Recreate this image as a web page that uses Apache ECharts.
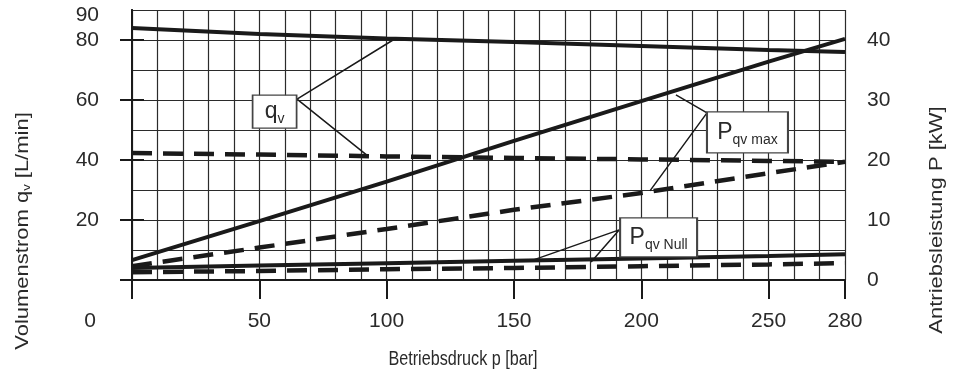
<!DOCTYPE html>
<html>
<head>
<meta charset="utf-8">
<script src="https://cdn.jsdelivr.net/npm/echarts@6/dist/echarts.min.js"></script>
<style>
  html, body { margin: 0; padding: 0; background: #fff; }
  #chart { width: 958px; height: 376px; }
</style>
</head>
<body>
<div id="chart"></div>
<script>
// ---- data ----
const pressure = [0, 50, 100, 150, 200, 250, 280];            // bar
const qvSolid = [84.0, 82.0, 80.5, 79.3, 78.0, 76.7, 76.0];   // L/min
const qvDashed = [42.3, 41.8, 41.2, 40.7, 40.2, 39.7, 39.4];  // L/min
const pMaxSolid = [3.3, 9.8, 16.4, 23.2, 29.8, 36.4, 40.2];   // kW
const pMaxDashed = [2.3, 5.4, 8.5, 11.7, 14.5, 17.8, 19.7];   // kW
const pNullSolid = [2.0, 2.4, 2.8, 3.2, 3.6, 4.0, 4.3];       // kW
const pNullDashed = [1.3, 1.5, 1.8, 2.0, 2.3, 2.6, 2.8];      // kW

const xLabels = [0, 50, 100, 150, 200, 250, 280];
const yLeftLabels = [20, 40, 60, 80, 90];
const yLeftTicks = [0, 20, 40, 60, 80];
const yRightTicks = [0, 10, 20, 30, 40];

// annotation labels (anchor in bar / L/min units)
const annLabels = ['q_v', 'P_qv max', 'P_qv Null'];
const annCenters = [[56.0, 56.1], [241.7, 49.2], [206.8, 14.2]];
const leaderQv = [[102.5, 80.0], [64.8, 60.3], [92.7, 41.3]];
const leaderPmax = [[213.6, 61.7], [225.8, 55.7], [203.4, 29.7]];
const leaderPnull = [[156.3, 6.3], [191.3, 16.7], [180.3, 6.0]];

const FONT = '"Liberation Sans", Arial, sans-serif';
const INK = '#1a1a1a';
const TXT = '#2a2a2a';
const GRIDC = '#2b2b2b';

function pairs(ys) { return pressure.map((p, i) => [p, ys[i]]); }

function curve(ys, dashed, axisIdx) {
  return {
    type: 'line', data: pairs(ys), yAxisIndex: axisIdx, showSymbol: false, silent: true,
    smooth: false, z: 5,
    lineStyle: { color: INK, width: dashed ? 4.5 : 4, type: dashed ? [20, 11] : 'solid' }
  };
}
function leader(pts) {
  return {
    type: 'line', data: pts, yAxisIndex: 0, showSymbol: false, silent: true, z: 6,
    lineStyle: { color: INK, width: 1.5 }
  };
}

const chart = echarts.init(document.getElementById('chart'), null, { renderer: 'canvas' });

const boxSizes = [[44, 33], [81, 41], [77, 39]];
const boxRich = {
  m: { fontFamily: FONT, fontSize: 23, color: TXT, lineHeight: 24 },
  s: { fontFamily: FONT, fontSize: 14, color: TXT, padding: [15, 0, 0, 0] }
};
function boxText(name) {
  const parts = name.split('_');
  return '{m|' + parts[0] + '}{s|' + parts[1] + '}';
}

const hiddenParts = {
  axisLine: { show: false }, axisTick: { show: false }, axisLabel: { show: false },
  splitLine: { show: true, lineStyle: { color: GRIDC, width: 1.2 } }
};

const option = {
  animation: false,
  backgroundColor: '#fff',
  grid: { left: 132, right: 113, top: 10, bottom: 96 },
  xAxis: [
    {
      type: 'value', min: 0, max: 280, interval: 10, position: 'bottom',
      axisLine: { show: true, lineStyle: { color: INK, width: 2 } },
      axisTick: { show: true, customValues: xLabels, length: 19, lineStyle: { color: INK, width: 2 } },
      axisLabel: {
        customValues: xLabels, margin: 31, fontFamily: FONT, fontSize: 21, color: TXT,
        formatter: v => v === 0 ? '{z|0}' : String(v),
        rich: { z: { fontFamily: FONT, fontSize: 21, color: TXT, padding: [0, 84, 0, 0] } }
      },
      splitLine: { show: false }
    },
    Object.assign({ type: 'value', min: 0, max: 280, interval: 10, position: 'top' }, hiddenParts)
  ],
  yAxis: [
    {
      type: 'value', min: 0, max: 90, interval: 10, position: 'left',
      axisLine: { show: true, lineStyle: { color: INK, width: 2 } },
      axisTick: { show: true, customValues: yLeftTicks, length: 12, lineStyle: { color: INK, width: 2 } },
      axisLabel: {
        customValues: yLeftLabels, margin: 33, fontFamily: FONT, fontSize: 21, color: TXT,
        formatter: v => v === 90 ? '{t|90}' : String(v),
        rich: { t: { fontFamily: FONT, fontSize: 21, color: TXT, padding: [10, 0, 0, 0] } }
      },
      splitLine: { show: false }
    },
    {
      type: 'value', min: 0, max: 45, interval: 5, position: 'right',
      axisLine: { show: true, lineStyle: { color: INK, width: 2 } },
      axisTick: { show: true, customValues: yRightTicks, length: 12, lineStyle: { color: INK, width: 2 } },
      axisLabel: { customValues: yRightTicks, margin: 22, fontFamily: FONT, fontSize: 21, color: TXT },
      splitLine: { show: false }
    },
    Object.assign({ type: 'value', min: 0, max: 90, interval: 10, position: 'left' }, hiddenParts)
  ],
  series: [
    curve(qvSolid, false, 0),
    curve(qvDashed, true, 0),
    curve(pMaxSolid, false, 1),
    curve(pMaxDashed, true, 1),
    curve(pNullSolid, false, 1),
    curve(pNullDashed, true, 1),
    leader(leaderQv),
    leader(leaderPmax),
    leader(leaderPnull),
    {
      type: 'scatter', yAxisIndex: 0, silent: true, z: 10,
      data: annLabels.map((n, i) => ({
        value: annCenters[i], symbolSize: boxSizes[i],
        label: { show: true, position: 'inside', formatter: boxText(n), rich: boxRich }
      })),
      symbol: 'rect',
      itemStyle: { color: '#fff', borderColor: '#444', borderWidth: 1.5, opacity: 1 }
    }
  ],
  graphic: [
    {
      type: 'text', x: 23, y: 231, rotation: Math.PI / 2, scaleY: 0.8, silent: true,
      style: {
        text: '{a|Volumenstrom q}{b|v}{a| [L/min]}', align: 'center', verticalAlign: 'middle',
        rich: {
          a: { fontFamily: FONT, fontSize: 22, fill: TXT },
          b: { fontFamily: FONT, fontSize: 13, fill: TXT, padding: [10, 0, 0, 0] }
        }
      }
    },
    {
      type: 'text', x: 937, y: 220, rotation: Math.PI / 2, scaleY: 0.8, silent: true,
      style: {
        text: 'Antriebsleistung P [kW]', align: 'center', verticalAlign: 'middle',
        font: '22px ' + FONT, fill: TXT
      }
    },
    {
      type: 'text', x: 463, y: 359, scaleX: 0.77, silent: true,
      style: {
        text: 'Betriebsdruck p [bar]', align: 'center', verticalAlign: 'middle',
        font: '21px ' + FONT, fill: TXT
      }
    }
  ]
};
chart.setOption(option);
</script>
</body>
</html>
